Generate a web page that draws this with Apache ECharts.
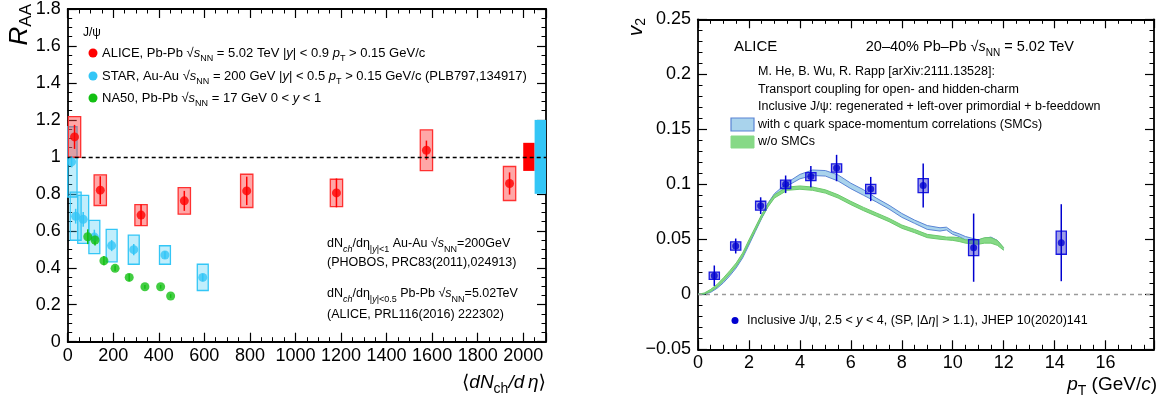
<!DOCTYPE html>
<html><head><meta charset="utf-8">
<script src="https://cdn.jsdelivr.net/npm/echarts@6/dist/echarts.min.js"></script>
<style>html,body{margin:0;padding:0;background:#fff}#c{width:1162px;height:405px}</style>
</head><body><div id="c"></div>
<script>
// ---------- Left panel: J/psi R_AA vs <dNch/deta> ----------
const alice_x    = [30, 143, 322, 512, 786, 1180, 1575, 1940];
const alice_raa  = [1.108, 0.82, 0.685, 0.762, 0.816, 0.805, 1.036, 0.856];
const alice_stat = [0.065, 0.075, 0.057, 0.054, 0.077, 0.078, 0.052, 0.06];
const alice_sys  = [0.11, 0.083, 0.057, 0.072, 0.09, 0.074, 0.11, 0.092];
const alice_global = 0.076;

const star_x    = [17, 35, 68, 117, 193, 290, 427, 593];
const star_raa  = [0.973, 0.679, 0.662, 0.566, 0.52, 0.498, 0.469, 0.348];
const star_stat = [0.03, 0.04, 0.04, 0.04, 0.03, 0.03, 0.02, 0.02];
const star_sys  = [0.19, 0.13, 0.13, 0.09, 0.088, 0.079, 0.05, 0.071];
const star_global = 0.2;

const na50_x    = [88, 120, 159, 208, 270, 339, 408, 452];
const na50_raa  = [0.568, 0.55, 0.438, 0.397, 0.348, 0.297, 0.297, 0.247];
const na50_stat = [0.04, 0.03, 0.025, 0.015, 0.02, 0.01, 0.01, 0.01];

const left_x_ticks = [0, 200, 400, 600, 800, 1000, 1200, 1400, 1600, 1800, 2000];

// ---------- Right panel: J/psi v2 vs pT ----------
const jpsi_pt   = [0.64, 1.48, 2.46, 3.44, 4.43, 5.44, 6.78, 8.84, 10.82, 14.26];
const jpsi_v2   = [0.0169, 0.0439, 0.0806, 0.100, 0.107, 0.1148, 0.0957, 0.0988, 0.0424, 0.0469];
const jpsi_stat = [0.0093, 0.0068, 0.0076, 0.008, 0.0097, 0.012, 0.011, 0.020, 0.031, 0.035];
const jpsi_sys  = [0.0033, 0.0038, 0.004, 0.0038, 0.0036, 0.0038, 0.0042, 0.0064, 0.0073, 0.0105];

const band_pt = [0, 0.25, 0.5, 0.75, 1, 1.25, 1.5, 1.75, 2, 2.25, 2.5, 2.75, 3, 3.5, 4, 4.5, 5, 5.5, 6, 6.5, 7, 7.5, 8, 8.5, 9, 9.5, 9.75, 10, 10.25, 10.5, 11, 11.25, 11.5, 11.75, 12];
const smc_lo = [0, 0.0002, 0.0018, 0.0055, 0.0105, 0.0168, 0.024, 0.033, 0.0448, 0.057, 0.069, 0.08, 0.0885, 0.0985, 0.105, 0.108, 0.1075, 0.103, 0.096, 0.09, 0.084, 0.0775, 0.07, 0.0645, 0.059, 0.0575, 0.0585, 0.0545, 0.0525, 0.0495, 0.0465, 0.048, 0.049, 0.0465, 0.0405];
const smc_hi = [0, 0.0008, 0.0035, 0.0078, 0.0132, 0.0195, 0.0268, 0.0358, 0.0478, 0.06, 0.072, 0.083, 0.0915, 0.1015, 0.109, 0.113, 0.1125, 0.1085, 0.101, 0.095, 0.0875, 0.081, 0.0735, 0.0675, 0.0625, 0.0605, 0.061, 0.057, 0.055, 0.0525, 0.0495, 0.051, 0.052, 0.049, 0.042];
const nosmc_lo = [0, 0.0003, 0.0025, 0.0065, 0.012, 0.0185, 0.0255, 0.0345, 0.0465, 0.058, 0.0695, 0.0795, 0.0875, 0.0945, 0.0955, 0.0945, 0.092, 0.0875, 0.0815, 0.076, 0.071, 0.066, 0.06, 0.056, 0.0515, 0.05, 0.0495, 0.049, 0.048, 0.0465, 0.0455, 0.0465, 0.0465, 0.0445, 0.04];
const nosmc_hi = [0, 0.0012, 0.0045, 0.009, 0.015, 0.0215, 0.0285, 0.0375, 0.0495, 0.061, 0.0725, 0.0825, 0.0905, 0.0975, 0.0985, 0.0975, 0.095, 0.0905, 0.0845, 0.079, 0.074, 0.069, 0.063, 0.059, 0.0545, 0.053, 0.052, 0.052, 0.0515, 0.0495, 0.0495, 0.0515, 0.0515, 0.049, 0.0425];

// ---------- styles ----------
const F = "'Liberation Sans', Arial, Helvetica, 'DejaVu Sans', sans-serif";
const RED = '#ff0000', CYAN = '#33c6f6', GREEN = '#13c013', BLUE = '#0000d0';
const BLUE_EDGE = '#5a84d4', BLUE_FILL = '#a9d3ec', GREEN_EDGE = '#6cc96c', GREEN_FILL = '#86d986';

function clipRect(r, cs) {
  return echarts.graphic.clipRectByRect(r, {x: cs.x, y: cs.y, width: cs.width, height: cs.height});
}
function boxSeries(xi, yi, data, stroke, fill, z) {
  return { type: 'custom', xAxisIndex: xi, yAxisIndex: yi, z: z, silent: true, clip: true,
    data: data,
    renderItem: function (params, api) {
      const x = api.value(0), y = api.value(1), dx = api.value(2), dy = api.value(3);
      const p1 = api.coord([x - dx, y + dy]), p2 = api.coord([x + dx, y - dy]);
      const r = clipRect({x: p1[0], y: p1[1], width: p2[0] - p1[0], height: p2[1] - p1[1]}, params.coordSys);
      if (!r) return null;
      return {type: 'rect', shape: r, style: {fill: fill, stroke: stroke, lineWidth: 1.3}};
    }};
}
function errSeries(xi, yi, data, color, z) {
  return { type: 'custom', xAxisIndex: xi, yAxisIndex: yi, z: z, silent: true,
    data: data,
    renderItem: function (params, api) {
      const x = api.value(0), y = api.value(1), e = api.value(2);
      const a = api.coord([x, y - e]), b = api.coord([x, y + e]);
      return {type: 'line', shape: {x1: a[0], y1: a[1], x2: b[0], y2: b[1]}, style: {stroke: color, lineWidth: 1.5}};
    }};
}
// band drawn as one polygon through the axis scales
function bandSeries(lo, hi, edge, fill, z) {
  return { type: 'custom', xAxisIndex: 2, yAxisIndex: 2, z: z, silent: true, clip: true,
    data: band_pt.map((x, i) => [x, lo[i], hi[i]]),
    renderItem: function (params, api) {
      if (params.dataIndexInside !== 0) return null;
      const n = params.dataInsideLength;
      const up = [], dn = [];
      for (let i = 0; i < n; i++) {
        const x = api.value(0, i);
        up.push(api.coord([x, api.value(2, i)]));
        dn.push(api.coord([x, api.value(1, i)]));
      }
      const poly = up.concat(dn.slice().reverse());
      return { type: 'group', children: [
        {type: 'polygon', shape: {points: poly}, style: {fill: fill, stroke: null}},
        {type: 'polyline', shape: {points: up}, style: {stroke: edge, lineWidth: 1, fill: null}},
        {type: 'polyline', shape: {points: dn}, style: {stroke: edge, lineWidth: 1, fill: null}}
      ]};
    }};
}
function pts(xs, ys) { return xs.map((x, i) => [x, ys[i]]); }

// ---------- axes ----------
const axLine = {show: true, onZero: false, lineStyle: {color: '#000', width: 1.8}};
function xAx(g, pos, min, max, interval, split, fmt) {
  return { type: 'value', gridIndex: g, position: pos, min: min, max: max, interval: interval,
    axisLine: axLine, splitLine: {show: false},
    axisTick: {show: true, inside: true, length: 9, lineStyle: {color: '#000', width: 1.2}},
    minorTick: {show: true, splitNumber: split, length: 4.5, lineStyle: {color: '#000', width: 1}},
    axisLabel: fmt ? {show: true, margin: 5, fontSize: 18, fontFamily: F, color: '#000', formatter: fmt} : {show: false} };
}
function yAx(g, pos, min, max, interval, split, fmt) {
  return { type: 'value', gridIndex: g, position: pos, min: min, max: max, interval: interval,
    axisLine: axLine, splitLine: {show: false},
    axisTick: {show: true, inside: true, length: 9, lineStyle: {color: '#000', width: 1.2}},
    minorTick: {show: true, splitNumber: split, length: 4.5, lineStyle: {color: '#000', width: 1}},
    axisLabel: fmt ? {show: true, margin: 7, fontSize: 18, fontFamily: F, color: '#000', formatter: fmt} : {show: false} };
}
const fmtLeftX = v => (left_x_ticks.indexOf(Math.round(v)) >= 0 ? String(Math.round(v)) : '');
const fmtLeftY = v => String(+v.toFixed(2));
const fmtRightX = v => (v <= 16.01 ? String(Math.round(v)) : '');
const fmtRightY = v => { const r = +v.toFixed(3); return r < 0 ? '\u2212' + String(-r) : String(r); };

// ---------- text helpers ----------
function rich(fs) {
  const sub = Math.round(fs * 0.72);
  return {
    i:  {fontSize: fs, fontFamily: F, fontStyle: 'italic', lineHeight: fs + 8},
    s:  {fontSize: sub, fontFamily: F, lineHeight: sub + 2, verticalAlign: 'bottom'},
    si: {fontSize: sub, fontFamily: F, fontStyle: 'italic', lineHeight: sub + 2, verticalAlign: 'bottom'}
  };
}
function T(x, y, text, fs, extra) {
  return Object.assign({ type: 'text', x: x, y: y, z: 50, silent: true,
    style: Object.assign({ text: text, fontSize: fs, fontFamily: F, fill: '#000', lineHeight: fs + 8,
      rich: rich(fs), align: 'left', verticalAlign: 'middle' }, extra && extra.style || {}) },
    extra && extra.el || {});
}

const graphics = [
  // left legend
  T(83, 33, 'J/\u03c8', 12),
  {type: 'circle', shape: {cx: 93, cy: 53, r: 4.5}, style: {fill: RED}, z: 50},
  T(102, 53, 'ALICE, Pb-Pb \u221a{i|s}{s|NN} = 5.02 TeV |{i|y}| < 0.9 {i|p}{s|T} > 0.15 GeV/c', 13),
  {type: 'circle', shape: {cx: 93, cy: 76, r: 4.5}, style: {fill: CYAN}, z: 50},
  T(102, 76, 'STAR, Au-Au \u221a{i|s}{s|NN} = 200 GeV |{i|y}| < 0.5 {i|p}{s|T} > 0.15 GeV/c (PLB797,134917)', 13),
  {type: 'circle', shape: {cx: 93, cy: 98, r: 4.5}, style: {fill: GREEN}, z: 50},
  T(102, 98, 'NA50, Pb-Pb \u221a{i|s}{s|NN} = 17 GeV 0 < {i|y} < 1', 13),
  // left annotations
  T(327, 243.5, 'dN{si|ch}/d\u03b7{s||}{si|y}{s||<1} Au-Au \u221a{i|s}{s|NN}=200GeV', 12.5),
  T(327, 262.5, '(PHOBOS, PRC83(2011),024913)', 12.5),
  T(327, 294, 'dN{si|ch}/d\u03b7{s||}{si|y}{s||<0.5} Pb-Pb \u221a{i|s}{s|NN}=5.02TeV', 12.5),
  T(327, 315, '(ALICE, PRL116(2016) 222302)', 12.5),
  // left axis titles
  { type: 'text', x: 20, y: 4, rotation: Math.PI / 2, z: 50, silent: true,
    style: { text: '{R|R}{A|AA}', align: 'right', verticalAlign: 'middle', fill: '#000',
      rich: { R: {fontSize: 26, fontFamily: F, fontStyle: 'italic', lineHeight: 30},
              A: {fontSize: 17, fontFamily: F, lineHeight: 18, verticalAlign: 'bottom'} } } },
  T(546, 383, '\u27e8{i|dN}{s|ch}{i|/d\u2009\u03b7}\u27e9', 19, {style: {align: 'right'}}),
  // right texts
  T(734, 46.5, 'ALICE', 15),
  T(1074, 46.5, '20\u201340% Pb\u2013Pb \u221a{i|s}{s|NN} = 5.02 TeV', 14.5, {style: {align: 'right'}}),
  T(758, 72, 'M. He, B. Wu, R. Rapp [arXiv:2111.13528]:', 12.5),
  T(758, 89.5, 'Transport coupling for open- and hidden-charm', 12.5),
  T(758, 107, 'Inclusive J/\u03c8: regenerated + left-over primordial + b-feeddown', 12.5),
  {type: 'rect', shape: {x: 731, y: 118, width: 23, height: 13}, style: {fill: BLUE_FILL, stroke: BLUE_EDGE, lineWidth: 1.2}, z: 50},
  T(758, 124.5, 'with c quark space-momentum correlations (SMCs)', 12.5),
  {type: 'rect', shape: {x: 731, y: 136, width: 23, height: 12}, style: {fill: GREEN_FILL, stroke: GREEN_FILL, lineWidth: 1}, z: 50},
  T(758, 142, 'w/o SMCs', 12.5),
  {type: 'circle', shape: {cx: 735, cy: 320.5, r: 3.5}, style: {fill: BLUE}, z: 50},
  T(747, 320.5, 'Inclusive J/\u03c8, 2.5 < {i|y} < 4, (SP, |\u0394{i|\u03b7}| > 1.1), JHEP 10(2020)141', 12.5),
  { type: 'text', x: 636, y: 18, rotation: Math.PI / 2, z: 50, silent: true,
    style: { text: '{v|v}{t|2}', align: 'right', verticalAlign: 'middle', fill: '#000',
      rich: { v: {fontSize: 21, fontFamily: F, fontStyle: 'italic', lineHeight: 24},
              t: {fontSize: 14, fontFamily: F, lineHeight: 15, verticalAlign: 'bottom'} } } },
  T(1157, 385, '{i|p}{s|T} (GeV/{i|c})', 19, {style: {align: 'right'}})
];

// ---------- series ----------
const series = [];
// left
series.push(boxSeries(0, 0, star_x.map((x, i) => [x, star_raa[i], 24, star_sys[i]]), CYAN, 'rgba(51,198,246,0.3)', 2));
series.push(boxSeries(0, 0, alice_x.map((x, i) => [x, alice_raa[i], 27, alice_sys[i]]), '#ff3030', 'rgba(255,60,60,0.45)', 3));
series.push({ type: 'custom', xAxisIndex: 0, yAxisIndex: 0, z: 3, silent: true,
  data: [[2025, 1, 25, alice_global], [2075, 1, 25, star_global]],
  renderItem: function (params, api) {
    const x = api.value(0), y = api.value(1), dx = api.value(2), dy = api.value(3);
    const p1 = api.coord([x - dx, y + dy]), p2 = api.coord([x + dx, y - dy]);
    const col = params.dataIndex === 0 ? RED : CYAN;
    return {type: 'rect', shape: {x: p1[0], y: p1[1], width: p2[0] - p1[0], height: p2[1] - p1[1]}, style: {fill: col}};
  }});
series.push(errSeries(0, 0, star_x.map((x, i) => [x, star_raa[i], star_stat[i]]), CYAN, 4));
series.push(errSeries(0, 0, na50_x.map((x, i) => [x, na50_raa[i], na50_stat[i]]), GREEN, 4));
series.push(errSeries(0, 0, alice_x.map((x, i) => [x, alice_raa[i], alice_stat[i]]), RED, 4));
series.push({type: 'scatter', xAxisIndex: 0, yAxisIndex: 0, z: 5, symbol: 'circle', symbolSize: 9, itemStyle: {color: CYAN}, data: pts(star_x, star_raa), silent: true});
series.push({type: 'scatter', xAxisIndex: 0, yAxisIndex: 0, z: 5, symbol: 'circle', symbolSize: 9, itemStyle: {color: GREEN}, data: pts(na50_x, na50_raa), silent: true});
series.push({type: 'scatter', xAxisIndex: 0, yAxisIndex: 0, z: 6, symbol: 'circle', symbolSize: 9, itemStyle: {color: RED}, data: pts(alice_x, alice_raa), silent: true,
  markLine: {silent: true, symbol: ['none', 'none'], label: {show: false}, animation: false,
    lineStyle: {color: '#000', type: [4, 3], width: 1.3}, data: [{yAxis: 1}]}});

// right
series.push(bandSeries(smc_lo, smc_hi, BLUE_EDGE, BLUE_FILL, 2));
series.push(bandSeries(nosmc_lo, nosmc_hi, GREEN_EDGE, GREEN_FILL, 3));
series.push(boxSeries(2, 2, jpsi_pt.map((x, i) => [x, jpsi_v2[i], 0.2, jpsi_sys[i]]), '#1818e0', 'rgba(40,40,200,0.45)', 4));
series.push(errSeries(2, 2, jpsi_pt.map((x, i) => [x, jpsi_v2[i], jpsi_stat[i]]), BLUE, 5));
series.push({type: 'scatter', xAxisIndex: 2, yAxisIndex: 2, z: 6, symbol: 'circle', symbolSize: 7, itemStyle: {color: BLUE}, data: pts(jpsi_pt, jpsi_v2), silent: true,
  markLine: {silent: true, symbol: ['none', 'none'], label: {show: false}, animation: false,
    lineStyle: {color: '#9a9a9a', type: [4, 4], width: 1.3}, data: [{yAxis: 0}]}});

const option = {
  animation: false,
  backgroundColor: '#fff',
  grid: [
    {left: 67.7, top: 8.7, width: 478.3, height: 333},
    {left: 698, top: 19.3, width: 456, height: 330}
  ],
  xAxis: [
    xAx(0, 'bottom', 0, 2100, 200, 4, fmtLeftX),
    xAx(0, 'top', 0, 2100, 200, 4, null),
    xAx(1, 'bottom', 0, 17.9, 2, 4, fmtRightX),
    xAx(1, 'top', 0, 17.9, 2, 4, null)
  ],
  yAxis: [
    yAx(0, 'left', 0, 1.8, 0.2, 4, fmtLeftY),
    yAx(0, 'right', 0, 1.8, 0.2, 4, null),
    yAx(1, 'left', -0.05, 0.25, 0.05, 5, fmtRightY),
    yAx(1, 'right', -0.05, 0.25, 0.05, 5, null)
  ],
  series: series,
  graphic: graphics
};
const chart = echarts.init(document.getElementById('c'), null, {renderer: 'canvas'});
chart.setOption(option);
</script></body></html>
